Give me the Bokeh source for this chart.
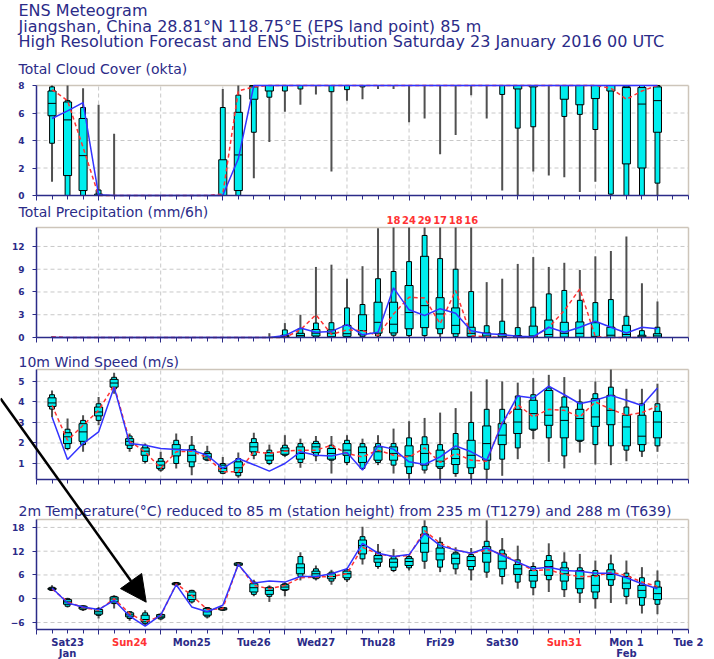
import numpy as np
from bokeh.plotting import figure
from bokeh.models import Range1d, LinearAxis, FixedTicker, Label, Arrow, NormalHead
from bokeh.embed import file_html
from bokeh.resources import INLINE
from bokeh.core.properties import value

# ------------------------------------------------------------------ data
# forecast steps, hours after Saturday 23 January 2016 00 UTC
step_hours = list(range(6, 241, 6))
day_names = ["Sat23", "Sun24", "Mon25", "Tue26", "Wed27", "Thu28",
             "Fri29", "Sat30", "Sun31", "Mon 1", "Tue 2"]
sunday_names = ["Sun24", "Sun31"]
month_names = {"Sat23": "Jan", "Mon 1": "Feb"}

# Total cloud cover (okta)
cloud_min = [1.0, 0, 0, 0, 0, 0, 0, 0, 0, 0, 0, 0, 0, 1.26, 3.9, 6.1, 6.6, 7.35, 1.75, 6.9,
             7.0, 7.75, 7.75, 5.33, 5.6, 3.0, 4.4, 7.3, 5.6, 0.36, 0, 1.75, 1.45, 1.33, 0.25, 1.0, 0, 0, 0, 0]
cloud_p10 = [3.8, 0, 0, 0, 0, 0, 0, 0, 0, 0, 0, 0, 0, 4.6, 7.15, 7.6, 7.75, 8, 7.55, 7.7,
             7.9, 8, 8, 8, 8, 8, 8, 8, 8, 7.35, 4.9, 5.0, 8, 5.75, 5.9, 4.8, 0.1, 0, 0, 0.9]
cloud_p25 = [5.8, 1.45, 0.36, 0, 0, 0, 0, 0, 0, 0, 0, 0, 0.36, 7.0, 7.6, 8, 8, 8, 8, 8,
             8, 8, 8, 8, 8, 8, 8, 8, 8, 8, 7.75, 7.9, 8, 7.0, 6.6, 7.05, 7.6, 2.3, 2.0, 4.6]
cloud_med = [6.7, 5.5, 2.9, 0, 0, 0, 0, 0, 0, 0, 0, 0, 2.95, 7.9, 8, 8, 8, 8, 8, 8,
             8, 8, 8, 8, 8, 8, 8, 8, 8, 8, 8, 8, 8, 8, 8, 8, 8, 7.9, 6.65, 6.9]
cloud_p75 = [7.6, 6.8, 5.6, 0.1, 0, 0, 0, 0, 0, 0, 0, 2.6, 6.05, 8, 8, 8, 8, 8, 8, 8,
             8, 8, 8, 8, 8, 8, 8, 8, 8, 8, 8, 8, 8, 8, 8, 8, 8, 7.85, 7.85, 7.9]
cloud_p90 = [7.9, 6.9, 6.4, 0.4, 0, 0, 0, 0, 0, 0, 0, 6.4, 7.3, 8, 8, 8, 8, 8, 8, 8,
             8, 8, 8, 8, 8, 8, 8, 8, 8, 8, 8, 8, 8, 8, 8, 8, 8, 8, 8, 8]
cloud_max = [8, 8, 7.8, 6.6, 4.5, 0, 0, 0, 0, 0, 0, 7.75, 8, 8, 8, 8, 8, 8, 8, 8,
             8, 8, 8, 8, 8, 8, 8, 8, 8, 8, 8, 8, 8, 8, 8, 8, 8, 8, 8, 8]
cloud_hres = [5.6, 6.15, 6.75, 0.05, 0, 0, 0, 0, 0, 0, 0, 0, 2.67, 8, 8, 8, 8, 8, 8, 8,
              8, 8, 8, 8, 8, 8, 8, 8, 8, 8, 8, 8, 8, 8, 8, 8, 8, 8, 8, 8]
cloud_ctrl = [7.7, 6.9, 3.5, 0, 0, 0, 0, 0, 0, 0, 0, 0.1, 7.6, 7.9, 8, 8, 8, 8, 8, 8,
              8, 8, 8, 8, 8, 8, 8, 8, 8, 8, 8, 8, 8, 8, 8, 8, 7.8, 7.0, 7.6, 8]

# Total precipitation (mm/6h)
prec_min = [0] * 40
prec_p10 = [0, 0, 0, 0, 0, 0, 0, 0, 0, 0, 0, 0, 0, 0, 0, 0, 0, 0.05, 0.02, 0.05,
            0.1, 0.2, 0.3, 0.25, 0.25, 0.5, 0.1, 0, 0, 0, 0, 0, 0, 0, 0, 0, 0, 0, 0, 0]
prec_p25 = [0, 0, 0, 0, 0, 0, 0, 0, 0, 0, 0, 0, 0, 0, 0, 0.05, 0.05, 0.2, 0.1, 0.15,
            0.35, 0.57, 0.6, 1.15, 1.3, 1.15, 0.5, 0.15, 0, 0, 0, 0.02, 0.05, 0.05, 0.05, 0.02, 0.02, 0.05, 0, 0]
prec_med = [0, 0, 0, 0, 0, 0, 0, 0, 0, 0, 0, 0, 0, 0, 0, 0.15, 0.25, 0.57, 0.57, 0.5,
            0.9, 2.0, 1.75, 3.3, 4.2, 3.1, 1.6, 0.55, 0.2, 0.15, 0.05, 0.2, 0.4, 0.55, 0.55, 0.15, 0.3, 0.4, 0.1, 0.2]
prec_p75 = [0, 0, 0, 0, 0, 0, 0, 0, 0, 0, 0, 0, 0, 0, 0, 0.3, 0.55, 1.05, 1.0, 1.6,
            3.0, 4.65, 4.65, 6.85, 10.7, 5.25, 3.9, 1.35, 0.6, 0.5, 0.25, 1.5, 2.3, 2.0, 2.05, 1.95, 1.35, 1.6, 0.3, 0.5]
prec_p90 = [0, 0, 0, 0, 0, 0, 0, 0, 0, 0, 0, 0, 0, 0, 0, 1.0, 1.15, 1.9, 1.95, 3.9,
            4.35, 7.75, 8.7, 10.0, 13.45, 10.4, 9.0, 6.05, 1.55, 2.15, 1.3, 4.0, 5.75, 6.2, 4.9, 4.6, 5.0, 2.8, 0.9, 1.35]
prec_max = [0.15, 0, 0, 0, 0, 0, 0, 0, 0, 0, 0, 0, 0, 0, 0.57, 1.9, 3.0, 9.3, 9.6, 7.75,
            9.4, 14.4, 18, 24, 29, 17, 18, 16, 7.3, 7.75, 9.7, 10.6, 9.3, 9.85, 8.9, 10.7, 11.4, 13.3, 7.15, 4.75]
prec_hres = [0, 0, 0, 0, 0, 0, 0, 0, 0, 0, 0, 0, 0, 0, 0, 0.25, 1.25, 0.7, 0.8, 1.7,
             0.35, 0.7, 6.55, 3.65, 2.9, 3.8, 3.2, 0.9, 0.5, 0.4, 0.15, 0.1, 1.35, 0.7, 1.35, 2.15, 1.35, 0.6, 1.35, 1.15]
prec_ctrl = [0.1, 0, 0, 0, 0, 0, 0, 0, 0, 0, 0, 0, 0, 0, 0, 0, 1.0, 3.0, 0.4, 1.0,
             0.9, 0.25, 3.1, 5.3, 5.2, 1.8, 6.2, 0.25, 0.1, 0, 0, 0, 1.35, 3.55, 6.4, 0.1, 0, 0, 0, 0]

# 10 m wind speed (m/s)
wind_min = [3.27, 1.65, 1.57, 2.86, 4.4, 1.57, 1.0, 0.6, 0.76, 0.43, 1.11, 0.47, 0.3, 1.21, 0.92, 1.32, 0.79, 1.11, 0.51, 0.92,
            0.68, 0.92, 0.51, 0.25, 0.51, 0.24, 0.35, 0.24, 0.24, 0.4, 1.21, 2.18, 1.08, 0.76, 1.53, 0.95, 0.92, 1.11, 1.32, 1.57]
wind_p10 = [3.65, 1.73, 1.92, 3.1, 4.64, 1.73, 1.1, 0.68, 1.0, 0.84, 1.16, 0.52, 0.4, 1.4, 1.0, 1.4, 1.05, 1.37, 1.16, 1.05,
            0.76, 1.05, 0.92, 0.51, 0.68, 0.76, 0.51, 0.51, 0.72, 1.21, 1.76, 2.62, 2.25, 1.37, 2.08, 1.92, 1.86, 1.65, 1.6, 1.86]
wind_p25 = [3.78, 1.97, 2.08, 3.32, 4.72, 1.89, 1.4, 0.76, 1.37, 1.08, 1.21, 0.6, 0.56, 1.57, 1.16, 1.45, 1.21, 1.53, 1.21, 1.4,
            1.05, 1.16, 1.16, 0.84, 0.92, 0.84, 0.95, 0.79, 1.16, 1.92, 2.46, 2.67, 2.86, 2.25, 2.13, 2.81, 2.89, 1.86, 1.92, 2.25]
wind_med = [3.95, 2.3, 2.54, 3.51, 4.92, 2.08, 1.6, 0.92, 1.7, 1.4, 1.32, 0.76, 0.79, 1.81, 1.37, 1.62, 1.49, 1.81, 1.49, 1.65,
            1.53, 1.57, 1.49, 1.37, 1.49, 1.11, 1.24, 1.4, 1.97, 2.38, 3.02, 3.43, 3.35, 3.1, 3.19, 3.27, 3.59, 2.78, 2.33, 3.02]
wind_p75 = [4.2, 2.5, 2.94, 3.75, 5.1, 2.21, 1.76, 1.11, 1.92, 1.68, 1.49, 0.92, 1.08, 2.02, 1.53, 1.76, 1.81, 1.97, 1.73, 1.97,
            1.81, 1.81, 1.81, 1.86, 1.92, 1.65, 1.7, 2.13, 2.83, 2.94, 3.64, 4.08, 4.56, 3.75, 3.64, 4.16, 4.32, 3.35, 3.35, 3.54]
wind_p90 = [4.35, 2.67, 3.1, 3.91, 5.2, 2.34, 1.89, 1.24, 2.13, 1.89, 1.57, 1.0, 1.24, 2.21, 1.65, 1.89, 1.97, 2.08, 1.89, 2.13,
            1.97, 1.97, 1.97, 2.25, 2.3, 1.92, 2.46, 3.0, 3.64, 3.64, 4.29, 4.35, 4.68, 4.24, 4.0, 4.4, 4.72, 3.75, 3.91, 3.91]
wind_max = [4.56, 3.19, 3.35, 4.24, 5.42, 2.46, 1.97, 1.57, 2.46, 2.34, 1.86, 1.32, 1.53, 2.5, 1.92, 2.38, 2.21, 2.34, 2.34, 2.38,
            2.21, 2.38, 2.7, 3.06, 3.22, 3.48, 3.7, 4.51, 5.1, 5.0, 4.94, 5.16, 5.32, 5.21, 4.61, 5.0, 5.58, 4.64, 4.64, 4.89]
wind_hres = [3.27, 1.19, 1.97, 2.54, 4.72, 1.97, 1.89, 1.73, 1.68, 1.65, 1.4, 0.76, 1.24, 0.94, 0.63, 1.0, 1.57, 1.4, 1.37, 1.53,
             0.68, 1.86, 1.7, 1.08, 0.95, 1.32, 1.86, 1.57, 1.16, 2.94, 4.29, 4.19, 4.77, 4.35, 3.91, 4.08, 4.32, 4.08, 3.83, 4.68]
wind_ctrl = [3.83, 2.13, 2.86, 3.59, 4.8, 2.08, 1.57, 0.76, 1.57, 1.6, 1.28, 0.6, 0.6, 1.57, 1.49, 1.6, 1.65, 1.65, 1.89, 1.49,
             1.32, 1.65, 1.4, 1.32, 1.76, 1.05, 1.49, 1.16, 1.11, 3.02, 3.87, 3.27, 3.64, 3.59, 3.27, 4.0, 3.64, 3.35, 3.48, 3.8]

# 2 m temperature (deg C)
temp_min = [1.95, -2.24, -3.07, -5.0, -2.5, -5.58, -6.67, -5.41, 3.37, -1.23, -5.0, -3.07, 8.13, 0.6, -0.81, 0.6, 4.62, 4.62, 3.53, 4.2,
            8.63, 7.55, 6.71, 7.13, 7.55, 6.71, 6.13, 4.62, 5.29, 3.62, 2.53, 0.86, 1.7, 0.44, -1.07, -2.49, -1.07, -1.4, -3.74, -3.91]
temp_p10 = [2.1, -1.9, -2.8, -4.2, -1.23, -5.0, -6.3, -5.1, 3.45, -0.81, -4.58, -2.9, 8.3, 1.1, 0.6, 2.1, 5.62, 5.04, 4.45, 4.79,
            10.06, 8.13, 7.13, 7.8, 9.47, 7.97, 7.55, 7.3, 6.71, 5.62, 4.2, 2.78, 4.79, 2.28, 1.44, 0.02, 3.37, 0.6, -1.65, -1.4]
temp_p25 = [2.3, -1.4, -2.6, -3.9, -0.81, -4.58, -5.83, -4.8, 3.55, -0.23, -4.16, -2.8, 8.45, 1.7, 1.1, 2.28, 6.3, 5.29, 5.04, 5.29,
            11.31, 9.2, 7.97, 8.38, 11.73, 9.8, 8.8, 8.13, 9.22, 7.55, 6.13, 4.45, 5.88, 4.45, 2.53, 1.7, 4.79, 2.53, 0.27, -0.23]
temp_med = [2.53, -0.8, -2.24, -3.3, -0.06, -4.08, -5.25, -4.4, 3.78, 0.86, -3.3, -2.57, 8.72, 2.78, 2.1, 2.95, 7.8, 6.3, 5.62, 6.3,
            13.4, 10.06, 9.2, 9.39, 14.0, 11.31, 10.2, 9.64, 11.48, 9.47, 7.55, 5.88, 8.13, 6.3, 5.04, 3.37, 6.13, 3.95, 2.1, 1.28]
temp_p75 = [2.7, -0.23, -1.9, -2.74, 0.44, -3.57, -4.16, -4.0, 3.95, 1.7, -2.5, -2.3, 9.0, 3.78, 2.78, 3.53, 8.8, 6.96, 6.3, 6.96,
            14.82, 10.9, 10.06, 10.2, 16.3, 12.8, 11.31, 10.64, 13.15, 11.31, 8.63, 7.13, 9.64, 7.8, 7.13, 5.88, 7.3, 5.62, 3.37, 2.95]
temp_p90 = [2.9, 0.0, -1.8, -2.5, 0.6, -3.3, -3.57, -3.9, 4.1, 2.1, -2.24, -2.24, 9.1, 4.2, 2.95, 3.78, 10.64, 7.55, 6.71, 7.3,
            15.66, 11.73, 10.64, 10.64, 18.17, 14.24, 11.73, 11.14, 14.5, 12.3, 9.8, 8.13, 10.9, 9.22, 7.8, 7.13, 8.8, 6.46, 5.29, 4.45]
temp_max = [3.37, 0.27, -1.65, -2.07, 0.86, -3.07, -2.9, -3.74, 4.2, 2.28, -2.07, -2.07, 9.3, 4.79, 3.37, 4.2, 11.73, 8.38, 7.3, 7.8,
            18.17, 13.82, 12.57, 11.31, 19.8, 15.5, 12.98, 12.8, 19.8, 15.32, 13.4, 9.2, 13.99, 11.73, 11.31, 9.64, 11.14, 9.64, 7.97, 7.13]
temp_hres = [2.7, -1.07, -2.07, -2.74, -0.4, -4.4, -6.9, -4.16, 3.53, -2.07, -3.3, -1.65, 8.63, 3.95, 4.45, 4.2, 5.62, 5.62, 6.3, 7.55,
             14.0, 11.48, 10.64, 11.14, 16.5, 13.4, 12.3, 11.48, 12.8, 10.9, 9.22, 7.55, 7.97, 7.13, 6.96, 6.46, 6.46, 5.29, 3.78, 2.53]
temp_ctrl = [2.5, -0.8, -2.24, -2.9, 0.02, -3.74, -5.83, -4.4, 3.78, 0.86, -2.74, -2.5, 8.8, 3.37, 2.5, 3.37, 5.29, 5.46, 5.62, 6.3,
             12.98, 11.31, 10.64, 10.9, 17.16, 14.0, 12.3, 11.48, 12.3, 11.31, 9.22, 7.13, 7.3, 6.13, 5.62, 5.62, 6.71, 5.88, 4.2, 3.12]

cloud_ticks = [0, 2, 4, 6, 8]
prec_ticks = [0, 3, 6, 9, 12]
wind_ticks = [1, 2, 3, 4, 5]
temp_ticks = [-6, 0, 6, 12, 18]

# ------------------------------------------------------------------ layout / style
W, H = 714, 659
X0, X1 = 36, 688            # canvas x of the left and right frame edges
NDAYS = 10.5
ppd = (X1 - X0) / NDAYS
x_start = -X0 / ppd
x_end = x_start + W / ppd


def cx(px):
    return x_start + px / ppd


NAVY = "#2b2b88"
CYAN = "#00eeee"
WHISK = "#505050"
BLUE = "#3333ff"
RED = "#ff3333"
GRID = "#c8c8c8"
BORDER = "#cdc5ba"
FONT = "DejaVu Sans"

p = figure(width=W, height=H, output_backend="svg", toolbar_location=None, tools="",
           x_range=Range1d(x_start, x_end), y_range=Range1d(H, 0),
           x_axis_location=None, y_axis_location=None, min_border=0)
p.outline_line_color = None
p.xgrid.grid_line_color = None
p.ygrid.grid_line_color = None
p.background_fill_color = "white"
p.border_fill_color = "white"

t = np.array(step_hours) / 24.0
day_bounds = list(range(0, 11))
minor = [h / 24.0 for h in range(6, 253, 6) if h % 24 != 0]

panels = [
    # name, lo, hi, canvas top, canvas bottom, ticks, title, title canvas y, data
    ("cloud", 0.0, 8.0, 85, 195, cloud_ticks, "Total Cloud Cover (okta)", 68,
     (cloud_min, cloud_p10, cloud_p25, cloud_med, cloud_p75, cloud_p90, cloud_max, cloud_hres, cloud_ctrl)),
    ("prec", 0.0, 14.5, 227, 337, prec_ticks, "Total Precipitation (mm/6h)", 211,
     (prec_min, prec_p10, prec_p25, prec_med, prec_p75, prec_p90, prec_max, prec_hres, prec_ctrl)),
    ("wind", 0.22, 5.58, 369, 479, wind_ticks, "10m Wind Speed (m/s)", 361,
     (wind_min, wind_p10, wind_p25, wind_med, wind_p75, wind_p90, wind_max, wind_hres, wind_ctrl)),
    ("temp", -7.77, 20.0, 519, 629, temp_ticks,
     "2m Temperature(\u00b0C) reduced to 85 m (station height) from 235 m (T1279) and 288 m (T639)", 510,
     (temp_min, temp_p10, temp_p25, temp_med, temp_p75, temp_p90, temp_max, temp_hres, temp_ctrl)),
]

WIDE, NARROW = 0.13, 0.078

for name, lo, hi, top, bot, ticks, title, ty, data in panels:
    k = (hi - lo) / (bot - top)
    p.extra_y_ranges[name] = Range1d(lo - (H - bot) * k, hi + top * k)
    mn, q10, q25, md, q75, q90, mx, hres, ctrl = [np.array(a, dtype=float) for a in data]

    # grid lines
    gt = np.array([v for v in ticks if lo < v < hi])
    dashed = gt[gt != 0] if name == "temp" else gt
    p.segment(x0=0, x1=NDAYS, y0=dashed, y1=dashed, line_color=GRID, line_dash="4 3",
              line_width=1, y_range_name=name)
    if name == "temp":
        z = gt[gt == 0]
        p.segment(x0=0, x1=NDAYS, y0=z, y1=z, line_color=GRID, line_width=1, y_range_name=name)
    vd = np.array(day_bounds[1:])
    p.segment(x0=vd, x1=vd, y0=lo, y1=hi, line_color=GRID, line_dash="4 3",
              line_width=1, y_range_name=name)
    # frame top and right edge
    p.segment(x0=[0, NDAYS], x1=[NDAYS, NDAYS], y0=[hi, lo], y1=[hi, hi],
              line_color=BORDER, line_width=1.5, y_range_name=name)

    # ensemble distribution
    p.segment(x0=t, x1=t, y0=mn, y1=np.minimum(mx, hi), line_color=WHISK, line_width=2,
              y_range_name=name)
    p.vbar(x=t, width=NARROW, bottom=q10, top=q90, fill_color=CYAN, line_color="black",
           line_width=1, y_range_name=name)
    p.vbar(x=t, width=WIDE, bottom=q25, top=q75, fill_color=CYAN, line_color="black",
           line_width=1, y_range_name=name)
    p.segment(x0=t - WIDE / 2, x1=t + WIDE / 2, y0=md, y1=md, line_color="black",
              line_width=1, y_range_name=name)
    # control and high resolution forecasts
    p.line(t, ctrl, line_color=RED, line_dash="4 3", line_width=1.5, y_range_name=name)
    p.line(t, hres, line_color=BLUE, line_width=1.5, y_range_name=name)

    # axes
    yax = LinearAxis(y_range_name=name, fixed_location=0, bounds=(lo, hi),
                     ticker=FixedTicker(ticks=ticks, minor_ticks=[]),
                     axis_line_color=NAVY, axis_line_width=1.5,
                     major_tick_line_color=NAVY, major_tick_out=4, major_tick_in=0,
                     minor_tick_line_color=None,
                     major_label_text_color=NAVY, major_label_text_font=FONT,
                     major_label_text_font_size="9px", major_label_text_font_style="bold",
                     major_label_standoff=8)
    p.add_layout(yax, "left")
    xax = LinearAxis(y_range_name=name, fixed_location=lo, bounds=(0, NDAYS),
                     ticker=FixedTicker(ticks=day_bounds, minor_ticks=minor),
                     axis_line_color=NAVY, axis_line_width=1.5,
                     major_tick_line_color=NAVY, major_tick_out=5, major_tick_in=0,
                     minor_tick_line_color=NAVY, minor_tick_out=4, minor_tick_in=0,
                     major_label_text_color=None)
    p.add_layout(xax, "below")

    p.add_layout(Label(x=cx(18), y=ty, text=title, text_font=FONT, text_font_size="14px",
                       text_color=NAVY, text_baseline="middle", text_align="left"))

    if name == "prec":
        over = mx > hi
        p.text(x=t[over], y=hi + 1.0, text=[str(int(round(v))) for v in mx[over]],
               text_color=RED, text_font=value(FONT), text_font_size="10px",
               text_font_style="bold", text_align="center", text_baseline="middle",
               y_range_name=name)

    if name == "temp":
        noon = [d + 0.5 for d in range(len(day_names))]
        navy_pos = [x for x, n in zip(noon, day_names) if n not in sunday_names]
        red_pos = [x for x, n in zip(noon, day_names) if n in sunday_names]
        for pos, col in ((navy_pos, NAVY), (red_pos, RED)):
            lab = LinearAxis(y_range_name=name, fixed_location=lo,
                             ticker=FixedTicker(ticks=pos, minor_ticks=[]),
                             major_label_overrides={x: n for x, n in zip(noon, day_names) if x in pos},
                             axis_line_color=None, major_tick_line_color=None,
                             minor_tick_line_color=None, major_tick_out=0, major_tick_in=0,
                             major_label_text_color=col, major_label_text_font=FONT,
                             major_label_text_font_size="10px", major_label_text_font_style="bold",
                             major_label_standoff=7)
            p.add_layout(lab, "below")
        mpos = [x for x, n in zip(noon, day_names) if n in month_names]
        mon = LinearAxis(y_range_name=name, fixed_location=lo,
                         ticker=FixedTicker(ticks=mpos, minor_ticks=[]),
                         major_label_overrides={x: month_names[n] for x, n in zip(noon, day_names) if n in month_names},
                         axis_line_color=None, major_tick_line_color=None,
                         minor_tick_line_color=None, major_tick_out=0, major_tick_in=0,
                         major_label_text_color=NAVY, major_label_text_font=FONT,
                         major_label_text_font_size="10px", major_label_text_font_style="bold",
                         major_label_standoff=18)
        p.add_layout(mon, "below")

# header
header = ["ENS Meteogram",
          "Jiangshan, China 28.81\u00b0N 118.75\u00b0E (EPS land point) 85 m",
          "High Resolution Forecast and ENS Distribution Saturday 23 January 2016 00 UTC"]
for txt, yy in zip(header, [10, 26, 41]):
    p.add_layout(Label(x=cx(18), y=yy, text=txt, text_font=FONT, text_font_size="16px",
                       text_color=NAVY, text_baseline="middle", text_align="left"))

# annotation arrow pointing at the Sunday 24 18 UTC temperature distribution
p.add_layout(Arrow(x_start=cx(0), y_start=398, x_end=cx(145.7), y_end=601.7,
                   line_color="black", line_width=2.5,
                   end=NormalHead(size=26, fill_color="black", line_color="black")))

open("out.html", "w").write(file_html(p, INLINE))
